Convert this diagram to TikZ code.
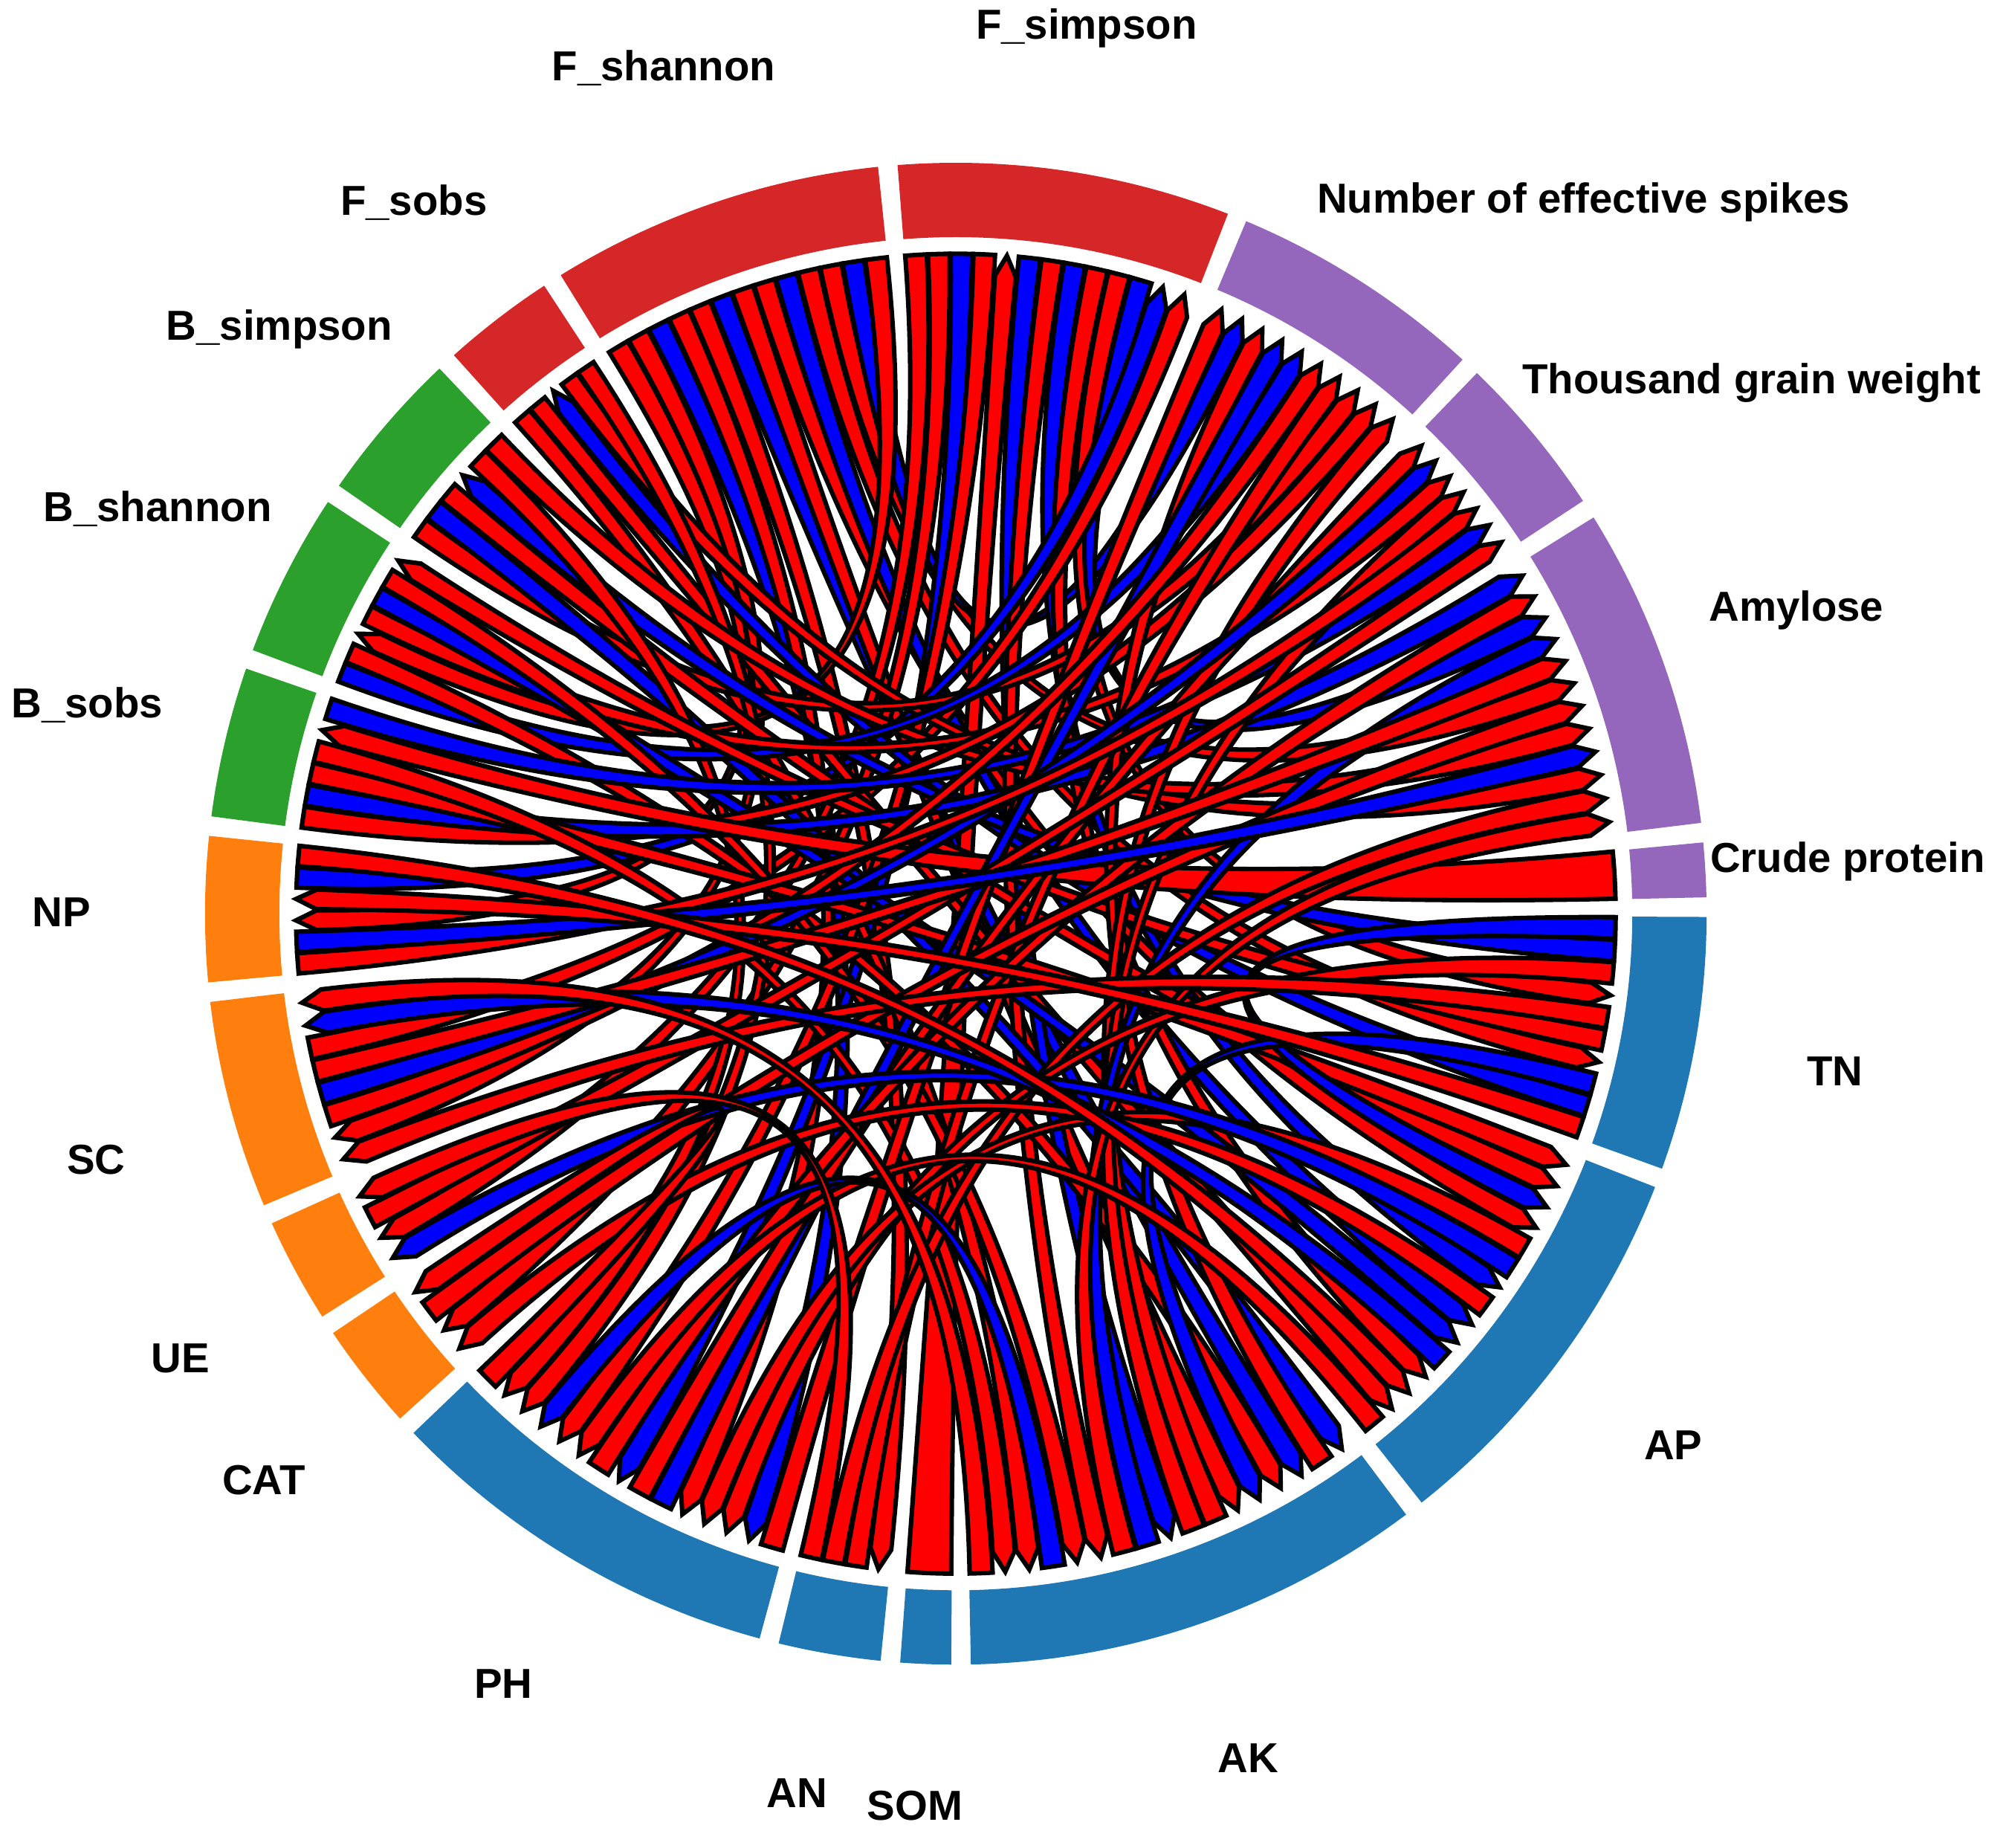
\documentclass[tikz,border=0pt]{standalone}
\usepackage{fontspec}
\setmainfont{Liberation Sans}
\usepackage{xcolor}
\usepackage{tikz}

\definecolor{secred}{HTML}{D62728}
\definecolor{secpurple}{HTML}{9467BD}
\definecolor{secgreen}{HTML}{2CA02C}
\definecolor{secorange}{HTML}{FF7F0E}
\definecolor{secblue}{HTML}{1F77B4}
\definecolor{pos}{HTML}{FF0000}
\definecolor{neg}{HTML}{0000FF}

% sector: name, start angle, end angle, number of links, colour
\newcommand{\defsec}[5]{%
  \expandafter\def\csname secA:#1\endcsname{#2}%
  \expandafter\def\csname secB:#1\endcsname{#3}%
  \expandafter\def\csname secN:#1\endcsname{#4}%
  \expandafter\def\csname secC:#1\endcsname{#5}}

\defsec{Fsha}{122.5}{95.2}{13}{secred}
\defsec{Fsim}{95.2}{68}{13}{secred}
\defsec{NES}{68}{46.8}{10}{secpurple}
\defsec{TGW}{46.8}{32.6}{7}{secpurple}
\defsec{Amy}{32.6}{6.2}{12}{secpurple}
\defsec{CP}{6.2}{0.5}{1}{secpurple}
\defsec{TN}{0.5}{-20.6}{10}{secblue}
\defsec{AP}{-20.6}{-52.4}{15}{secblue}
\defsec{AK}{-52.4}{-89.6}{17}{secblue}
\defsec{SOM}{-89.6}{-95}{1}{secblue}
\defsec{AN}{-95}{-104.4}{4}{secblue}
\defsec{PH}{-104.4}{-137}{15}{secblue}
\defsec{CAT}{-137}{-146.8}{4}{secorange}
\defsec{UE}{-146.8}{-156.4}{4}{secorange}
\defsec{SC}{-156.4}{-174}{8}{secorange}
\defsec{NP}{186}{173.3}{6}{secorange}
\defsec{Bsob}{173.3}{160.2}{6}{secgreen}
\defsec{Bsha}{160.2}{146}{7}{secgreen}
\defsec{Bsim}{146}{132.7}{6}{secgreen}
\defsec{Fsob}{132.7}{122.5}{5}{secred}

\def\rr{5.15}
\def\rb{4.99}
\def\rk{1.5}

\newcommand{\ringsec}[1]{%
  \edef\tmpA{\csname secA:#1\endcsname}\edef\tmpB{\csname secB:#1\endcsname}%
  \edef\tmpC{\csname secC:#1\endcsname}%
  \pgfmathsetmacro\rgA{\tmpA-0.75}\pgfmathsetmacro\rgB{\tmpB+0.75}%
  \fill[fill=\tmpC] (\rgA:5.86) arc[start angle=\rgA,end angle=\rgB,radius=5.86]
    -- (\rgB:5.28) arc[start angle=\rgB,end angle=\rgA,radius=5.28] -- cycle;}

% link: source, slot, target, slot, colour (flat end at source, arrow at target)
\newcommand{\chord}[5]{%
  \edef\cSA{\csname secA:#1\endcsname}\edef\cSB{\csname secB:#1\endcsname}\edef\cSN{\csname secN:#1\endcsname}%
  \edef\cTA{\csname secA:#3\endcsname}\edef\cTB{\csname secB:#3\endcsname}\edef\cTN{\csname secN:#3\endcsname}%
  \pgfmathsetmacro\cSw{(\cSA-\cSB-1.5)/\cSN}%
  \pgfmathsetmacro\cSa{\cSA-0.75-(#2-1)*\cSw-0.05}%
  \pgfmathsetmacro\cSb{\cSA-0.75-#2*\cSw+0.05}%
  \pgfmathsetmacro\cTw{(\cTA-\cTB-1.5)/\cTN}%
  \pgfmathsetmacro\cTa{\cTA-0.75-(#4-1)*\cTw-0.05}%
  \pgfmathsetmacro\cTb{\cTA-0.75-#4*\cTw+0.05}%
  \pgfmathsetmacro\cTm{(\cTa+\cTb)/2}%
  \draw[chord,fill=#5] (\cSa:\rr) arc[start angle=\cSa,end angle=\cSb,radius=\rr]
    .. controls (\cSb:\rk) and (\cTa:\rk) .. (\cTa:\rb) -- (\cTm:\rr) -- (\cTb:\rb)
    .. controls (\cTb:\rk) and (\cSa:\rk) .. (\cSa:\rr) -- cycle;}

\tikzset{
  chord/.style={draw=black,line width=1pt},
  lab/.style={font=\fontsize{9.3}{11}\selectfont\bfseries}
}

\begin{document}
\begin{tikzpicture}
\useasboundingbox (-7.46,-7.29) rectangle (8.22,7.13);

% outer ring
\foreach \s in {Fsha,Fsim,NES,TGW,Amy,CP,TN,AP,AK,SOM,AN,PH,CAT,UE,SC,NP,Bsob,Bsha,Bsim,Fsob}
  {\ringsec{\s}}

% microbes
\chord{Fsha}{1}{NP}{3}{pos}
\chord{Fsha}{2}{SC}{2}{pos}
\chord{Fsha}{3}{PH}{2}{neg}
\chord{Fsha}{4}{PH}{5}{pos}
\chord{Fsha}{5}{AN}{1}{pos}
\chord{Fsha}{6}{AK}{3}{neg}
\chord{Fsha}{7}{AK}{6}{pos}
\chord{Fsha}{8}{AP}{4}{pos}
\chord{Fsha}{9}{AP}{9}{neg}
\chord{Fsha}{10}{TN}{7}{pos}
\chord{Fsha}{11}{Amy}{6}{pos}
\chord{Fsha}{12}{NES}{2}{neg}
\chord{Fsha}{13}{Bsha}{3}{pos}
\chord{Fsim}{1}{UE}{2}{pos}
\chord{Fsim}{2}{CAT}{2}{pos}
\chord{Fsim}{3}{PH}{8}{neg}
\chord{Fsim}{4}{PH}{11}{pos}
\chord{SOM}{1}{Fsim}{5}{pos}
\chord{Fsim}{6}{AK}{9}{neg}
\chord{Fsim}{7}{AK}{12}{pos}
\chord{Fsim}{8}{AP}{7}{neg}
\chord{Fsim}{9}{AP}{12}{pos}
\chord{Fsim}{10}{TN}{4}{pos}
\chord{Fsim}{11}{Amy}{3}{neg}
\chord{NP}{5}{Fsim}{12}{neg}
\chord{SC}{6}{Fsim}{13}{pos}
\chord{Fsob}{1}{AK}{15}{pos}
\chord{Fsob}{2}{AP}{14}{pos}
\chord{TN}{9}{Fsob}{3}{neg}
\chord{Fsob}{4}{Amy}{10}{pos}
\chord{Fsob}{5}{PH}{13}{pos}
\chord{Bsim}{1}{NES}{8}{pos}
\chord{Bsim}{2}{AK}{1}{neg}
\chord{Bsim}{3}{AP}{2}{pos}
\chord{TN}{2}{Bsim}{4}{neg}
\chord{Bsim}{5}{PH}{14}{pos}
\chord{Bsim}{6}{Amy}{8}{pos}
\chord{Bsha}{1}{NES}{5}{neg}
\chord{Bsha}{2}{AK}{4}{pos}
\chord{Bsha}{4}{TGW}{3}{pos}
\chord{Bsha}{5}{AP}{10}{neg}
\chord{Bsha}{6}{AK}{13}{pos}
\chord{TN}{6}{Bsha}{7}{pos}
\chord{Bsob}{1}{NES}{9}{pos}
\chord{Bsob}{2}{Amy}{1}{neg}
\chord{Bsob}{3}{AP}{1}{pos}
\chord{Bsob}{4}{AK}{16}{pos}
\chord{CP}{1}{Bsob}{5}{pos}
\chord{Bsob}{6}{TGW}{6}{neg}

% soil and crop
\chord{PH}{1}{NES}{1}{pos}
\chord{AK}{2}{NES}{3}{pos}
\chord{PH}{6}{NES}{4}{neg}
\chord{SC}{3}{NES}{6}{pos}
\chord{AN}{2}{NES}{7}{pos}
\chord{AK}{7}{NES}{10}{pos}
\chord{PH}{7}{TGW}{1}{pos}
\chord{SC}{4}{TGW}{2}{neg}
\chord{AK}{8}{TGW}{4}{pos}
\chord{NP}{1}{TGW}{5}{pos}
\chord{UE}{3}{TGW}{7}{pos}
\chord{PH}{9}{Amy}{2}{pos}
\chord{AK}{10}{Amy}{4}{neg}
\chord{SC}{5}{Amy}{5}{pos}
\chord{CAT}{3}{Amy}{7}{pos}
\chord{NP}{2}{Amy}{9}{neg}
\chord{AN}{3}{Amy}{11}{pos}
\chord{AK}{11}{Amy}{12}{pos}

% soil and soil
\chord{TN}{1}{AP}{3}{neg}
\chord{TN}{3}{PH}{3}{pos}
\chord{TN}{5}{SC}{1}{pos}
\chord{TN}{8}{AK}{5}{neg}
\chord{TN}{10}{NP}{4}{pos}
\chord{AP}{5}{PH}{4}{pos}
\chord{AP}{6}{UE}{1}{neg}
\chord{AP}{8}{CAT}{1}{pos}
\chord{AP}{11}{SC}{7}{neg}
\chord{NP}{6}{AP}{13}{pos}
\chord{AP}{15}{PH}{10}{pos}
\chord{AK}{14}{PH}{12}{neg}
\chord{AK}{17}{SC}{8}{pos}
\chord{AN}{4}{UE}{4}{pos}
\chord{PH}{15}{CAT}{4}{pos}

% labels
\node[lab] (lFsim) at (1.02,6.91) {F\_simpson};
\node[lab] (lFsha) at (-2.28,6.60) {F\_shannon};
\node[lab] (lFsob) at (-4.23,5.55) {F\_sobs};
\node[lab] (lBsim) at (-5.28,4.56) {B\_simpson};
\node[lab] (lBsha) at (-6.23,3.16) {B\_shannon};
\node[lab] (lBsob) at (-6.78,1.63) {B\_sobs};
\node[lab] (lNP) at (-6.98,0.01) {NP};
\node[lab] (lSC) at (-6.71,-1.92) {SC};
\node[lab] (lUE) at (-6.05,-3.47) {UE};
\node[lab] (lCAT) at (-5.40,-4.42) {CAT};
\node[lab] (lPH) at (-3.53,-6.01) {PH};
\node[lab] (lAN) at (-1.24,-6.86) {AN};
\node[lab] (lSOM) at (-0.32,-6.96) {SOM};
\node[lab] (lAK) at (2.28,-6.59) {AK};
\node[lab] (lAP) at (5.60,-4.15) {AP};
\node[lab] (lTN) at (6.86,-1.23) {TN};
\node[lab] (lCP) at (6.96,0.41) {Crude protein};
\node[lab] (lAmy) at (6.56,2.37) {Amylose};
\node[lab] (lTGW) at (6.21,4.14) {Thousand grain weight};
\node[lab] (lNES) at (4.90,5.55) {Number of effective spikes};
\end{tikzpicture}
\end{document}
